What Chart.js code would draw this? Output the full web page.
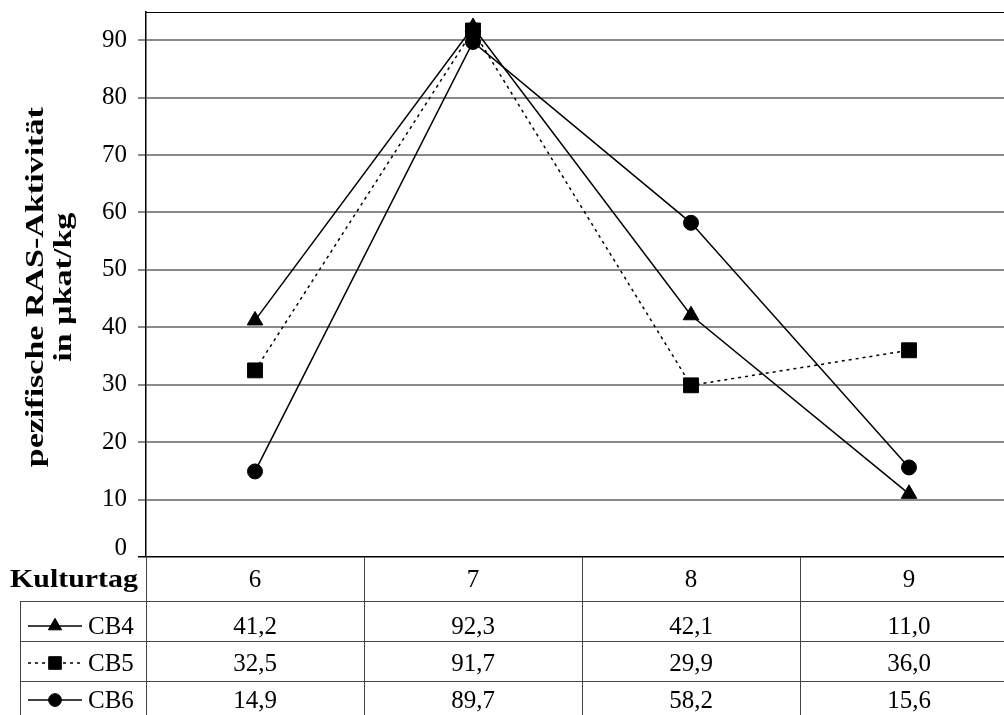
<!DOCTYPE html>
<html><head><meta charset="utf-8">
<script src="https://cdn.jsdelivr.net/npm/chart.js@4/dist/chart.umd.min.js"></script>
<style>
html,body{margin:0;padding:0;overflow:hidden;background:#fff;width:1004px;height:715px}
#wrap{position:relative;width:1040px;height:715px}
</style></head>
<body><div id="wrap"><canvas id="c" width="1040" height="715"></canvas></div>
<script>
const categories = ['6', '7', '8', '9'];
const seriesNames = ['CB4', 'CB5', 'CB6'];
const cb4 = [41.2, 92.3, 42.1, 11.0];
const cb5 = [32.5, 91.7, 29.9, 36.0];
const cb6 = [14.9, 89.7, 58.2, 15.6];
const yTicks = [0, 10, 20, 30, 40, 50, 60, 70, 80, 90];
const yMax = 95;
const headerLabel = 'Kulturtag';
const titleLines = ['pezifische RAS-Aktivität', 'in µkat/kg'];

const SERIF = "'Liberation Serif','Times New Roman',serif";
const seriesValues = [cb4, cb5, cb6];
const seriesStyles = [
  {pointStyle: 'triangle', r: 9, dash: []},
  {pointStyle: 'rect', r: 10.5, dash: [3, 4]},
  {pointStyle: 'circle', r: 7.5, dash: []}
];
const rowBaselineOffsets = [33, 30, 27];

function fmt(v) { return v.toFixed(1).replace('.', ','); }

function drawMarker(ctx, style, x, y, r) {
  ctx.save();
  ctx.fillStyle = '#000';
  ctx.strokeStyle = '#000';
  ctx.lineWidth = 1;
  ctx.setLineDash([]);
  ctx.beginPath();
  if (style === 'triangle') {
    ctx.moveTo(x, y - r);
    ctx.lineTo(x + r * Math.sin(2 * Math.PI / 3), y - r * Math.cos(2 * Math.PI / 3));
    ctx.lineTo(x + r * Math.sin(4 * Math.PI / 3), y - r * Math.cos(4 * Math.PI / 3));
    ctx.closePath();
  } else if (style === 'rect') {
    const s = Math.SQRT1_2 * r;
    ctx.rect(x - s, y - s, 2 * s, 2 * s);
  } else {
    ctx.arc(x, y, r, 0, Math.PI * 2);
  }
  ctx.fill();
  ctx.stroke();
  ctx.restore();
}

const extras = {
  id: 'extras',
  afterDraw(chart) {
    const ctx = chart.ctx;
    const ca = chart.chartArea;
    const xs = chart.scales.x;
    const ys = chart.scales.y;
    ctx.save();
    ctx.strokeStyle = '#000';
    ctx.lineWidth = 1;
    ctx.beginPath();
    ctx.moveTo(ca.left, Math.round(ca.top) + 0.5);
    ctx.lineTo(ca.right, Math.round(ca.top) + 0.5);
    ctx.stroke();

    ctx.fillStyle = '#000';
    ctx.font = '25px ' + SERIF;
    ctx.textAlign = 'right';
    ctx.textBaseline = 'middle';
    ctx.fillText(String(yTicks[0]), ca.left - 19, ys.getPixelForValue(yTicks[0]) - 9);

    ctx.font = 'bold 26px ' + SERIF;
    ctx.textAlign = 'center';
    ctx.textBaseline = 'middle';
    const w1 = ctx.measureText(titleLines[0]).width;
    const stretch = 360 / w1;
    const yc = (ca.top + ca.bottom) / 2 + 3;
    const tx = [36, 64];
    titleLines.forEach((t, i) => {
      ctx.save();
      ctx.translate(tx[i], yc);
      ctx.rotate(-Math.PI / 2);
      ctx.scale(stretch, 1);
      ctx.fillText(t, 0, 0);
      ctx.restore();
    });

    const centers = categories.map((c, i) => xs.getPixelForValue(i));
    const half = (centers[1] - centers[0]) / 2;
    const bounds = [centers[0] - half].concat(centers.map(c => c + half));
    const axisY = Math.round(ca.bottom);
    const rowTops = [axisY, axisY + 44, axisY + 84, axisY + 124, axisY + 164];
    const tableLeft = 20;
    const rightEnd = bounds[bounds.length - 1];

    ctx.lineWidth = 1;
    ctx.strokeStyle = '#444';
    bounds.forEach(b => {
      ctx.beginPath();
      ctx.moveTo(Math.round(b) + 0.5, axisY);
      ctx.lineTo(Math.round(b) + 0.5, 715);
      ctx.stroke();
    });
    ctx.beginPath();
    ctx.moveTo(tableLeft + 0.5, rowTops[1]);
    ctx.lineTo(tableLeft + 0.5, 715);
    ctx.stroke();
    for (let r = 1; r <= 3; r++) {
      ctx.beginPath();
      ctx.moveTo(tableLeft, rowTops[r] + 0.5);
      ctx.lineTo(rightEnd, rowTops[r] + 0.5);
      ctx.stroke();
    }

    ctx.textBaseline = 'alphabetic';
    ctx.font = 'bold 26px ' + SERIF;
    ctx.textAlign = 'left';
    const kw = ctx.measureText(headerLabel).width;
    ctx.save();
    ctx.translate(10, rowTops[0] + 30);
    ctx.scale(128 / kw, 1);
    ctx.fillText(headerLabel, 0, 0);
    ctx.restore();
    ctx.font = '25px ' + SERIF;
    ctx.textAlign = 'center';
    categories.forEach((c, i) => ctx.fillText(c, centers[i], rowTops[0] + 30));

    seriesNames.forEach((name, s) => {
      const top = rowTops[s + 1];
      const base = top + rowBaselineOffsets[s];
      const mid = base - 8;
      const st = seriesStyles[s];
      ctx.save();
      ctx.strokeStyle = '#000';
      ctx.lineWidth = 1.5;
      ctx.setLineDash(st.dash);
      ctx.beginPath();
      ctx.moveTo(28, mid);
      ctx.lineTo(82, mid);
      ctx.stroke();
      ctx.restore();
      drawMarker(ctx, st.pointStyle, 55, mid, st.r * 0.85);
      ctx.fillStyle = '#000';
      ctx.font = '25px ' + SERIF;
      ctx.textAlign = 'left';
      ctx.fillText(name, 88, base);
      ctx.textAlign = 'center';
      seriesValues[s].forEach((v, i) => ctx.fillText(fmt(v), centers[i], base));
    });
    ctx.restore();
  }
};

new Chart(document.getElementById('c'), {
  type: 'line',
  data: {
    labels: categories,
    datasets: seriesNames.map((n, s) => ({
      label: n,
      data: seriesValues[s],
      borderColor: '#000',
      backgroundColor: '#000',
      borderWidth: 1.5,
      borderDash: seriesStyles[s].dash,
      pointStyle: seriesStyles[s].pointStyle,
      pointRadius: seriesStyles[s].r,
      pointBorderWidth: 1,
      pointBorderColor: '#000',
      pointBackgroundColor: '#000',
      tension: 0
    }))
  },
  options: {
    responsive: false,
    devicePixelRatio: 1,
    animation: false,
    layout: {padding: {left: 0, right: 22, top: 10, bottom: 158}},
    plugins: {legend: {display: false}, tooltip: {enabled: false}, title: {display: false}},
    scales: {
      x: {
        type: 'category',
        display: false,
        offset: true
      },
      y: {
        min: 0,
        max: yMax,
        afterBuildTicks: s => { s.ticks = yTicks.map(v => ({value: v})); },
        afterFit: s => { s.width = 146; s.paddingTop = 0; s.paddingBottom = 0; },
        border: {display: true, color: '#000', width: 1.5},
        grid: {
          color: ctx => (ctx.tick && ctx.tick.value === 0) ? '#000' : '#8a8a8a',
          lineWidth: ctx => (ctx.tick && ctx.tick.value === 0) ? 1.5 : 2,
          tickLength: 8,
          drawTicks: true
        },
        ticks: {
          padding: 11,
          color: '#000',
          font: {family: SERIF, size: 25},
          callback: v => (v === 0 ? '' : String(v))
        }
      }
    }
  },
  plugins: [extras]
});
</script>
</body></html>
